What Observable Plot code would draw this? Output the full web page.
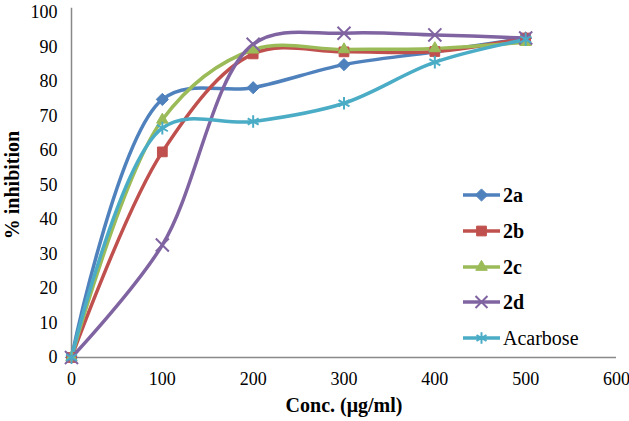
<!DOCTYPE html>
<html>
<head>
<meta charset="utf-8">
<script src="https://cdn.jsdelivr.net/npm/d3@7"></script>
<script src="https://cdn.jsdelivr.net/npm/@observablehq/plot@0.6"></script>
<style>
  html, body { margin: 0; padding: 0; background: #fff; }
  #wrap { position: relative; width: 629px; height: 421px; font-family: "Liberation Serif", "Times New Roman", serif; }
  #legend { position: absolute; left: 460px; top: 183px; }
  .item { position: absolute; left: 0; height: 24px; width: 170px; }
  .item svg { position: absolute; left: 0; top: 0; }
  .item span { position: absolute; left: 43px; top: 0px; font-size: 20px; color: #000; line-height: 24px; }
</style>
</head>
<body>
<div id="wrap"><div id="chart"></div><div id="legend"></div></div>
<script>
const conc = [0, 100, 200, 300, 400, 500];
const seriesNames = ["2a", "2b", "2c", "2d", "Acarbose"];
const v2a = [0, 74.8, 78.2, 84.9, 88.6, 92.6];
const v2b = [0, 59.6, 88.0, 88.6, 88.7, 92.6];
const v2c = [0, 68.9, 89.2, 89.3, 89.6, 91.4];
const v2d = [0, 32.6, 90.8, 94.0, 93.5, 92.6];
const vAcarbose = [0, 66.5, 68.4, 73.7, 85.6, 92.2];
const xTicks = [0, 100, 200, 300, 400, 500, 600];
const yTicks = [0, 10, 20, 30, 40, 50, 60, 70, 80, 90, 100];

const colors = ["#4F81BD", "#C0504D", "#9BBB59", "#8064A2", "#4BACC6"];
const symbols = ["diamond2", "square", "triangle2", "times", "asterisk"];
const filled = [true, true, true, false, false];
const bold = [true, true, true, true, false];
const values = [v2a, v2b, v2c, v2d, vAcarbose];

const rows = [];
seriesNames.forEach((s, i) => conc.forEach((c, j) => rows.push({series: s, conc: c, value: values[i][j]})));

const curve = "catmull-rom";
const font = "'Liberation Serif', 'Times New Roman', serif";

const marks = [
  Plot.ruleX([0], {y1: 0, y2: 101.2, stroke: "#898989", strokeWidth: 1.5}),
  Plot.ruleY([0], {x1: 0, x2: 600, stroke: "#898989", strokeWidth: 1.5})
];
seriesNames.forEach((s, i) => {
  const d = rows.filter(r => r.series === s);
  marks.push(Plot.line(d, {x: "conc", y: "value", stroke: colors[i], strokeWidth: 3.5, curve}));
});
seriesNames.forEach((s, i) => {
  const d = rows.filter(r => r.series === s);
  if (filled[i]) {
    marks.push(Plot.dot(d, {x: "conc", y: "value", symbol: () => symbols[i], fill: colors[i], stroke: colors[i], strokeWidth: 1, r: 5.5}));
  } else {
    marks.push(Plot.dot(d, {x: "conc", y: "value", symbol: () => symbols[i], stroke: colors[i], strokeWidth: 2, r: 6}));
  }
});

const chart = Plot.plot({
  width: 629,
  height: 421,
  marginLeft: 71,
  marginRight: 13,
  marginTop: 12,
  marginBottom: 64,
  style: {fontFamily: font, fontSize: "18px", background: "#fff", color: "#000"},
  x: {domain: [0, 600], ticks: xTicks, tickSize: 0, tickPadding: 15, label: null},
  y: {domain: [0, 100], ticks: yTicks, tickSize: 0, tickPadding: 14, label: null},
  symbol: {type: "identity"},
  marks: [
    ...marks,
    Plot.axisX({ticks: xTicks, tickSize: 0, tickPadding: 15, label: null, fontSize: 18, fontFamily: font}),
    Plot.axisY({ticks: yTicks, tickSize: 0, tickPadding: 14, label: null, fontSize: 18, fontFamily: font}),
    Plot.text(["Conc. (μg/ml)"], {frameAnchor: "bottom", dy: 54, textAnchor: "middle", fontWeight: "bold", fontSize: 20, fontFamily: font}),
    Plot.text(["% inhibition"], {frameAnchor: "left", dx: -59, rotate: -90, textAnchor: "middle", fontWeight: "bold", fontSize: 20, fontFamily: font})
  ]
});
document.getElementById("chart").appendChild(chart);

// Legend
const legend = document.getElementById("legend");
const ns = "http://www.w3.org/2000/svg";
seriesNames.forEach((s, i) => {
  const item = document.createElement("div");
  item.className = "item";
  item.style.top = (i * 35.8) + "px";
  const svg = document.createElementNS(ns, "svg");
  svg.setAttribute("width", 42); svg.setAttribute("height", 24);
  const line = document.createElementNS(ns, "line");
  line.setAttribute("x1", 3); line.setAttribute("x2", 40); line.setAttribute("y1", 12); line.setAttribute("y2", 12);
  line.setAttribute("stroke", colors[i]); line.setAttribute("stroke-width", 3.5);
  svg.appendChild(line);
  const symMap = {diamond2: d3.symbolDiamond2, square: d3.symbolSquare, triangle2: d3.symbolTriangle2, times: d3.symbolTimes, asterisk: d3.symbolAsterisk};
  const p = document.createElementNS(ns, "path");
  p.setAttribute("d", d3.symbol(symMap[symbols[i]], Math.PI * 5.5 * 5.5)());
  p.setAttribute("transform", "translate(21.5,12)");
  if (filled[i]) { p.setAttribute("fill", colors[i]); p.setAttribute("stroke", colors[i]); }
  else { p.setAttribute("fill", "none"); p.setAttribute("stroke", colors[i]); p.setAttribute("stroke-width", 2); }
  svg.appendChild(p);
  item.appendChild(svg);
  const t = document.createElement("span");
  t.textContent = s;
  t.style.fontWeight = bold[i] ? "bold" : "normal";
  item.appendChild(t);
  legend.appendChild(item);
});
</script>
</body>
</html>
